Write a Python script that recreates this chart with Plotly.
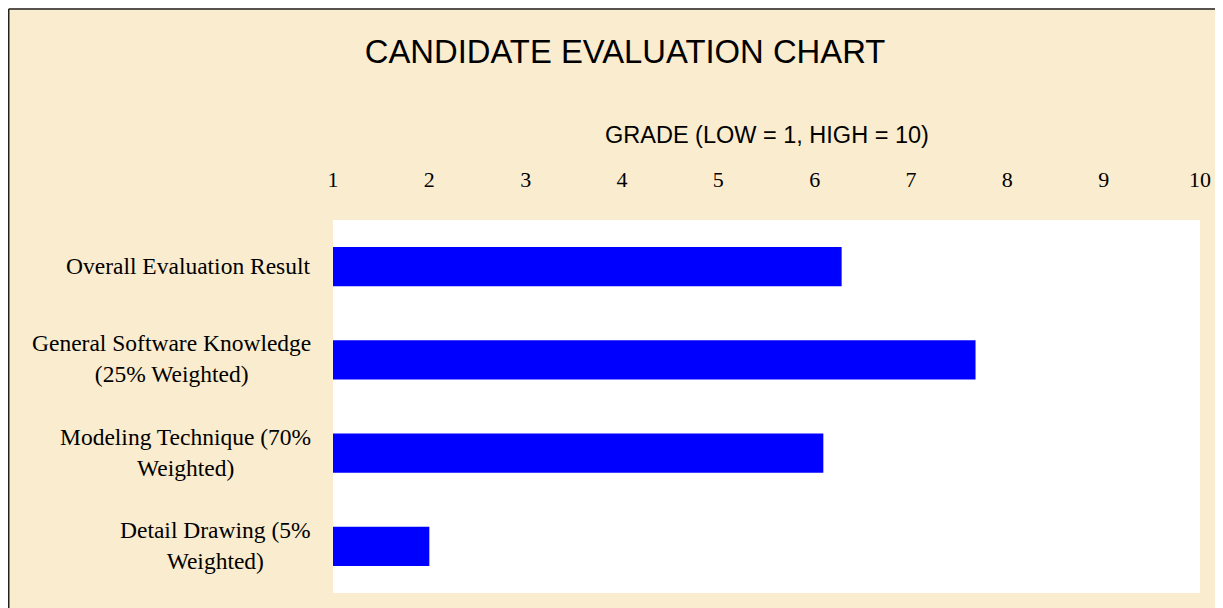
import plotly.graph_objects as go

categories = [
    "Overall Evaluation Result",
    "General Software Knowledge<br>(25% Weighted)",
    "Modeling Technique (70%<br>Weighted)",
    "Detail Drawing (5%<br>Weighted)",
]
grades = [6.28, 7.67, 6.09, 2.0]
tick_values = [1, 2, 3, 4, 5, 6, 7, 8, 9, 10]

title_text = "CANDIDATE EVALUATION CHART"
axis_title_text = "GRADE (LOW = 1, HIGH = 10)"

BG = "#FAECCE"

# the page body adds an 8px margin, so the figure is 1215x600
W, H = 1215, 600
L, R, T, B = 325, 23, 212, 15
pw, ph = W - L - R, H - T - B


def px_x(p):
    return (p - L) / pw


def px_y(p):
    return (H - B - p) / ph


fig = go.Figure()
fig.add_trace(go.Bar(
    y=list(range(len(categories))),
    x=grades,
    orientation="h",
    marker=dict(color="#0000FF", line=dict(width=0)),
    width=0.42,
    hoverinfo="x",
))

annotations = []
for i, c in enumerate(categories):
    annotations.append(dict(
        x=0, xref="paper", y=i, yref="y",
        text=c, showarrow=False, xanchor="right", yanchor="middle",
        xshift=-20, yshift=1, align="center",
        font=dict(family="Liberation Serif", size=23.5, color="#000000"),
    ))
annotations.append(dict(
    x=0.5, xref="paper", y=px_y(127), yref="paper",
    text=axis_title_text, showarrow=False, xanchor="center", yanchor="middle",
    font=dict(family="Liberation Sans", size=23.5, color="#000000"),
))

shapes = [
    dict(type="line", xref="paper", yref="paper", x0=px_x(0.75), x1=px_x(0.75),
         y0=px_y(1), y1=px_y(H + 5), line=dict(color="#222222", width=1.5), layer="above"),
    dict(type="line", xref="paper", yref="paper", x0=px_x(0.75), x1=px_x(W + 5),
         y0=px_y(1), y1=px_y(1), line=dict(color="#222222", width=1.5), layer="above"),
]

fig.update_layout(
    width=W, height=H,
    margin=dict(l=L, r=R, t=T, b=B, autoexpand=False),
    paper_bgcolor=BG,
    plot_bgcolor="#FFFFFF",
    showlegend=False,
    title=dict(
        text=title_text, x=617 / W, xref="container",
        y=1 - 44 / H, yref="container", xanchor="center", yanchor="middle",
        font=dict(family="Liberation Sans", size=32.8, color="#000000"),
    ),
    xaxis=dict(
        side="top", range=[1, 10], tickvals=tick_values,
        ticktext=[str(v) for v in tick_values],
        showgrid=False, zeroline=False, showline=False,
        ticks="outside", ticklen=23, tickcolor="rgba(0,0,0,0)",
        tickfont=dict(family="Liberation Serif", size=22, color="#000000"),
        fixedrange=True,
    ),
    yaxis=dict(
        range=[3.5, -0.5], showticklabels=False, showgrid=False,
        zeroline=False, showline=False, ticks="", fixedrange=True,
    ),
    annotations=annotations,
    shapes=shapes,
    bargap=0.58,
)

fig.write_html("out.html")
